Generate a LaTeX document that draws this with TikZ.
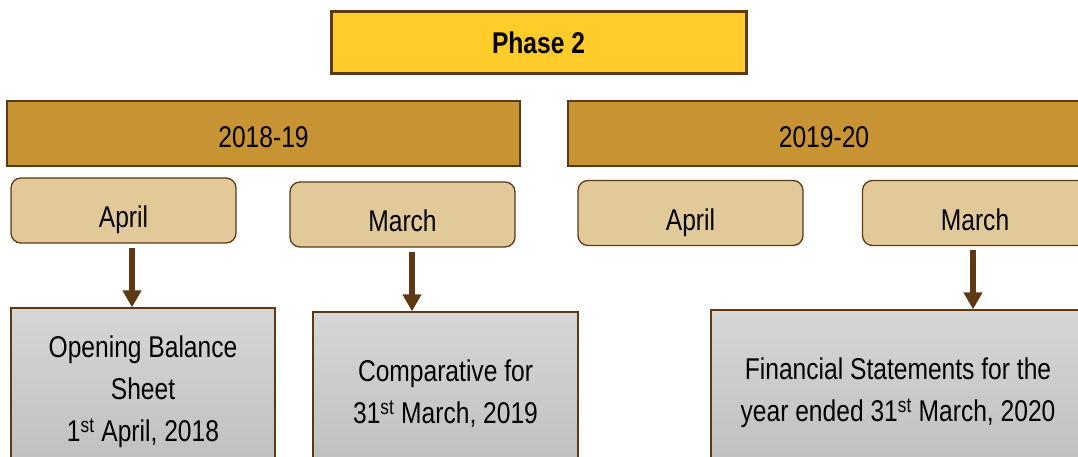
\documentclass[tikz,border=0pt]{standalone}
\usepackage{fontspec}
\setmainfont[FakeStretch=0.82]{Liberation Sans}
\usetikzlibrary{arrows.meta}
\definecolor{phaseyellow}{RGB}{255,204,41}
\definecolor{barbrown}{RGB}{200,147,51}
\definecolor{monthtan}{RGB}{226,201,154}
\definecolor{edgebrown}{RGB}{94,58,20}
\definecolor{graytop}{RGB}{214,214,214}
\definecolor{graybot}{RGB}{190,190,190}
\tikzset{
  phasebox/.style={draw=edgebrown,line width=3pt,fill=phaseyellow,inner sep=0pt,
    minimum width=415pt,minimum height=62pt,font=\fontsize{30}{36}\selectfont\bfseries},
  yearbar/.style={draw=edgebrown,line width=1.3pt,fill=barbrown,inner sep=0pt,
    minimum height=65pt,text height=28.5pt,text depth=0pt,font=\fontsize{30}{36}\selectfont},
  monthbox/.style={draw=edgebrown,line width=1.3pt,fill=monthtan,rounded corners=10pt,
    inner sep=0pt,minimum width=225pt,minimum height=65pt,text height=34.5pt,text depth=0pt,
    font=\fontsize{30}{36}\selectfont},
  notebox/.style={draw=edgebrown,line width=1.3pt,top color=graytop,bottom color=graybot,
    inner sep=0pt,align=center,font=\fontsize{30}{42}\selectfont},
  arr/.style={draw=edgebrown,line width=6pt,shorten <=4pt,
    -{Triangle[width=18pt,length=17pt]}}
}
\begin{document}
\begin{tikzpicture}[x=1pt,y=-1pt]
 \useasboundingbox (0,0) rectangle (1078,457);
 % heading
 \node[phasebox] (phase) at (538.5,43) {Phase 2};
 % years
 \node[yearbar,minimum width=513pt] (y1) at (263.5,133.5) {2018-19};
 \node[yearbar,minimum width=512pt] (y2) at (824,133.5) {2019-20};
 % months
 \node[monthbox] (apr1) at (123.5,210.5) {April};
 \node[monthbox] (mar1) at (402.5,214.5) {March};
 \node[monthbox] (apr2) at (690.5,213) {April};
 \node[monthbox] (mar2) at (975,213) {March};
 % statements
 \node[notebox,minimum width=264pt,minimum height=167pt] (obs) at (143,391.5)
   {Opening Balance\\Sheet\\1\textsuperscript{st} April, 2018};
 \node[notebox,minimum width=265pt,minimum height=163pt] (cmp) at (445.5,393.5)
   {Comparative for\\31\textsuperscript{st} March, 2019};
 \node[notebox,minimum width=374pt,minimum height=166pt] (fin) at (898,393)
   {Financial Statements for the\\year ended 31\textsuperscript{st} March, 2020};
 % arrows
 \draw[arr] ([xshift=8.5pt]apr1.south) -- ([xshift=8.5pt]apr1.south |- obs.north);
 \draw[arr] ([xshift=9.5pt]mar1.south) -- ([xshift=9.5pt]mar1.south |- cmp.north);
 \draw[arr] ([xshift=-2pt]mar2.south) -- ([xshift=-2pt]mar2.south |- fin.north);
\end{tikzpicture}
\end{document}
